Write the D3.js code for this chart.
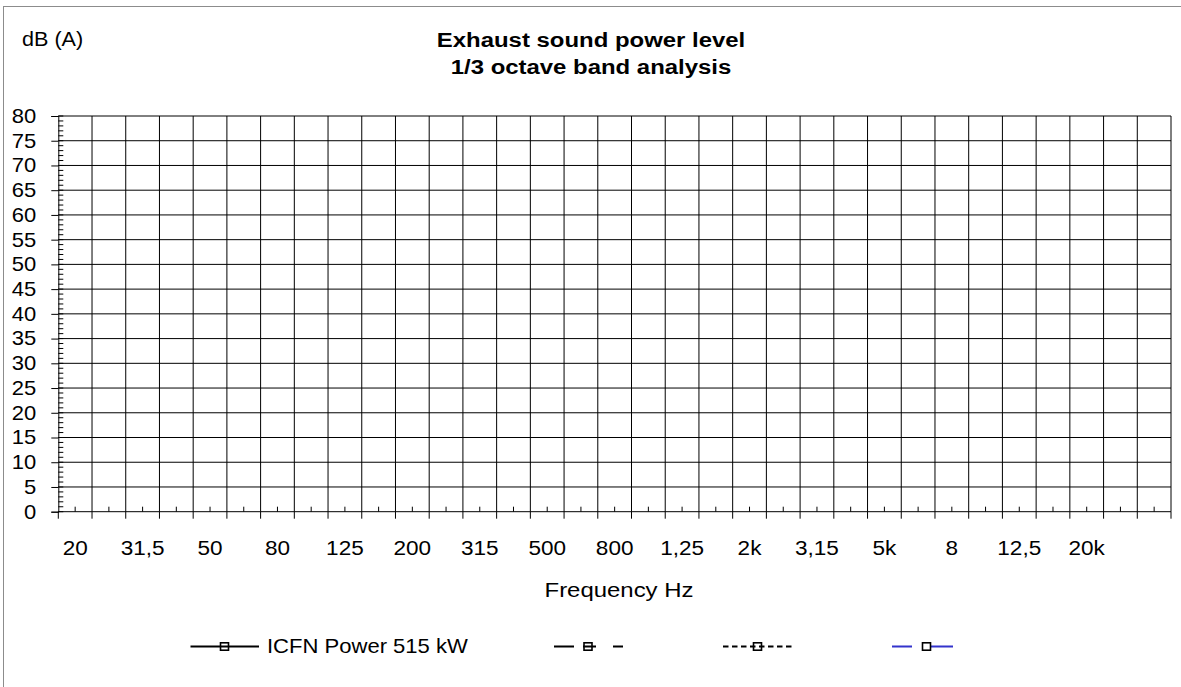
<!DOCTYPE html>
<html>
<head>
<meta charset="utf-8">
<script src="https://cdn.jsdelivr.net/npm/d3@7"></script>
<style>
  html, body { margin: 0; padding: 0; background: #fff; }
  svg { display: block; font-family: "Liberation Sans", Arial, sans-serif; }
</style>
</head>
<body>
<svg id="chart" width="1181" height="687"></svg>
<script>
// ---- data ----
const categories = ["20","25","31.5","40","50","63","80","100","125","160","200","250","315","400","500","630","800","1000","1250","1600","2000","2500","3150","4000","5000","6300","8000","10000","12500","16000","20000","25000","31500"];
const tickLabels = ["20","","31,5","","50","","80","","125","","200","","315","","500","","800","","1,25","","2k","","3,15","","5k","","8","","12,5","","20k","",""];
const yTicks = [0,5,10,15,20,25,30,35,40,45,50,55,60,65,70,75,80];
const seriesNames = ["ICFN Power 515 kW", "", "", ""];
// the reference chart contains no plotted values for any series
const series1 = [];
const series2 = [];
const series3 = [];
const series4 = [];
const allSeries = [series1, series2, series3, series4];

// ---- layout ----
const svg = d3.select("#chart");
const L = 58.3, R = 1171, T = 116, B = 511.7;

const x = d3.scaleBand().domain(categories).range([L, R]).padding(0);
const y = d3.scaleLinear().domain([0, 80]).range([B, T]);

// helper: text with horizontal stretch
function stext(parent, tx, ty, str, size, sx, opts = {}) {
  const t = parent.append("text")
    .attr("transform", `translate(${tx},${ty}) scale(${sx},1)`)
    .attr("font-size", size).attr("fill", "#000").text(str);
  if (opts.anchor) t.attr("text-anchor", opts.anchor);
  if (opts.bold) t.attr("font-weight", "bold");
  return t;
}

// outer frame
svg.append("rect").attr("x", 3.5).attr("y", 6.5).attr("width", 1200).attr("height", 700)
  .attr("fill", "none").attr("stroke", "#8c8c8c").attr("stroke-width", 1);

// titles
stext(svg, 22, 46, "dB (A)", 20, 1.08);
stext(svg, 591, 47, "Exhaust sound power level", 21, 1.14, { anchor: "middle", bold: true });
stext(svg, 591, 74, "1/3 octave band analysis", 21, 1.14, { anchor: "middle", bold: true });

// grid
const grid = svg.append("g");
grid.selectAll("line.v").data(categories.slice(1)).enter().append("line")
  .attr("x1", d => x(d)).attr("x2", d => x(d)).attr("y1", T).attr("y2", B)
  .attr("stroke", "#000").attr("stroke-width", 1);
grid.selectAll("line.h").data(yTicks.filter(v => v > 0)).enter().append("line")
  .attr("x1", L).attr("x2", R).attr("y1", d => y(d)).attr("y2", d => y(d))
  .attr("stroke", "#000").attr("stroke-width", 1);
grid.append("line").attr("x1", R).attr("x2", R).attr("y1", T).attr("y2", B)
  .attr("stroke", "#000").attr("stroke-width", 1);

// y axis
const ySX = 1.1;
const yAxis = d3.axisLeft(y).tickValues(yTicks).tickSize(7).tickPadding(15)
  .tickFormat(d3.format("d"));
const gy = svg.append("g").attr("transform", `translate(${L},0)`).call(yAxis);
gy.select(".domain").attr("stroke", "#000");
gy.selectAll(".tick line").attr("stroke", "#000");
gy.selectAll(".tick text").attr("font-size", 20).attr("fill", "#000")
  .attr("font-family", "Liberation Sans, Arial, sans-serif")
  .attr("x", -22 / ySX).attr("transform", `scale(${ySX},1)`);
// minor y ticks (inside)
const minorY = d3.range(0, 81);
svg.append("g").selectAll("line").data(minorY).enter().append("line")
  .attr("x1", L).attr("x2", L + 5).attr("y1", d => y(d)).attr("y2", d => y(d))
  .attr("stroke", "#000").attr("stroke-width", 1);

// x axis
const gx = svg.append("g").attr("transform", `translate(0,${B})`);
gx.append("line").attr("x1", L).attr("x2", R).attr("y1", 0).attr("y2", 0).attr("stroke", "#000");
gx.selectAll("line.maj").data(categories.concat(["_end"])).enter().append("line")
  .attr("x1", (d, i) => i < categories.length ? x(d) : R)
  .attr("x2", (d, i) => i < categories.length ? x(d) : R)
  .attr("y1", 0).attr("y2", 7).attr("stroke", "#000");
gx.selectAll("line.min").data(categories).enter().append("line")
  .attr("x1", d => x(d) + x.bandwidth() / 2).attr("x2", d => x(d) + x.bandwidth() / 2)
  .attr("y1", 0).attr("y2", -5).attr("stroke", "#000");
categories.forEach((c, i) => {
  if (tickLabels[i]) stext(gx, x(c) + x.bandwidth() / 2, 43, tickLabels[i], 20.5, 1.1, { anchor: "middle" });
});

stext(svg, 619, 597, "Frequency Hz", 21, 1.14, { anchor: "middle" });

// series (none have values)
const line = d3.line().defined(d => d != null)
  .x((d, i) => x(categories[i]) + x.bandwidth() / 2).y(d => y(d));
allSeries.forEach(s => {
  svg.append("path").datum(s).attr("d", line).attr("fill", "none").attr("stroke", "#000");
});

// legend
const legendY = 646.5;
const legendItems = [
  { x1: 190.5, x2: 259, mx: 224.5, color: "#000", dash: null, label: seriesNames[0], tx: 267 },
  { x1: 554, x2: 623, mx: 588, color: "#000", dash: "20 9 13 17 10 100", label: seriesNames[1], tx: 632 },
  { x1: 723, x2: 793, mx: 757.5, color: "#000", dash: "5.5 3.5", label: seriesNames[2], tx: 802 },
  { x1: 892, x2: 953, mx: 926.5, color: "#3333cc", dash: "20 19 22", label: seriesNames[3], tx: 961 }
];
const lg = svg.append("g");
legendItems.forEach(it => {
  const ln = lg.append("line").attr("x1", it.x1).attr("x2", it.x2)
    .attr("y1", legendY).attr("y2", legendY)
    .attr("stroke", it.color).attr("stroke-width", 2);
  if (it.dash) ln.attr("stroke-dasharray", it.dash);
  lg.append("rect").attr("x", it.mx - 4).attr("y", legendY - 3.7).attr("width", 8).attr("height", 7.4)
    .attr("fill", "none").attr("stroke", "#000").attr("stroke-width", 1.6);
  if (it.label) stext(lg, it.tx, legendY + 6.5, it.label, 21, 1.05);
});
</script>
</body>
</html>
